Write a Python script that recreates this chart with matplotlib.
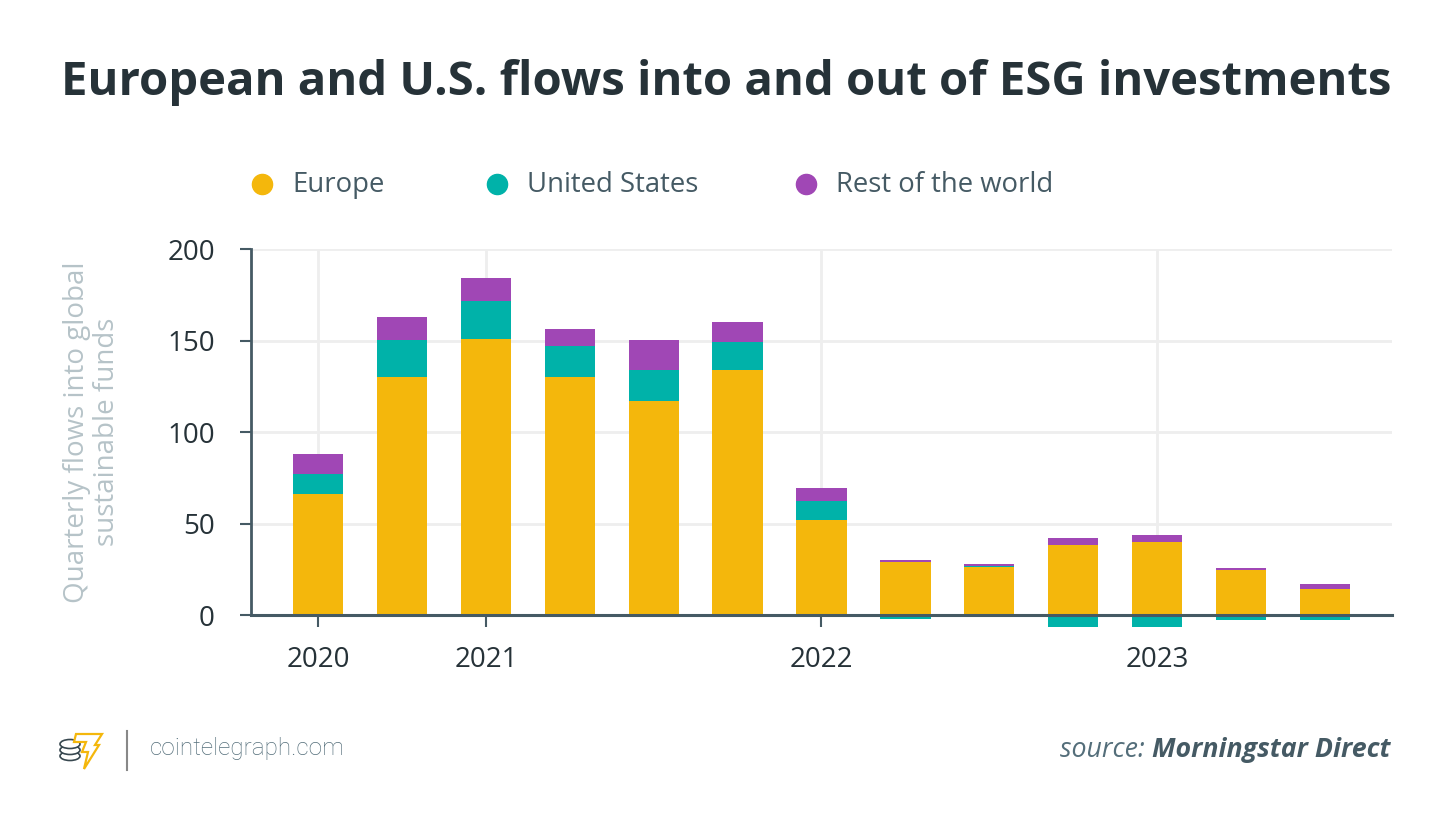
import matplotlib.pyplot as plt
from matplotlib.patches import Ellipse, Polygon
from matplotlib.lines import Line2D
import numpy as np

plt.rcParams['font.family'] = ['Open Sans', 'DejaVu Sans']

# Quarterly flows into global sustainable funds (USD bn)
europe = [66, 130, 151, 130, 117, 134, 52, 29, 26, 38.5, 40, 24.5, 14.5]
united_states = [11, 20.5, 20.5, 17, 17, 15, 10.5, -2, 1, -6.5, -6.5, -2.5, -2.5]
rest_of_world = [11, 12.5, 12.5, 9.5, 16.5, 11, 7, 1, 1, 3.5, 3.5, 1, 2.2]

year_labels = ['2020', '2021', '2022', '2023']
year_bar_index = [0, 2, 6, 10]
y_ticks = [0, 50, 100, 150, 200]

series_names = ['Europe', 'United States', 'Rest of the world']
colors = ['#f4b70c', '#00b2a9', '#a047b5']

dark = '#263238'
axis_col = '#455a64'
grid_col = '#eeeeee'

W, H = 1450, 831
fig = plt.figure(figsize=(W / 100, H / 100), dpi=100)
ax = fig.add_axes([251 / W, 1 - 637 / H, (1392 - 251) / W, (637 - 249) / H])

x = np.arange(len(europe))
eu = np.array(europe)
us = np.array(united_states)
row = np.array(rest_of_world)

ax.bar(x, eu, width=0.6, color=colors[0], zorder=2)
ax.bar(x, us, width=0.6, bottom=np.where(us > 0, eu, 0), color=colors[1], zorder=2)
ax.bar(x, row, width=0.6, bottom=eu + np.clip(us, 0, None), color=colors[2], zorder=2)

ax.set_xlim(-0.8, 12.8)
ax.set_ylim(-12, 200)

# grid
for yv in y_ticks:
    ax.axhline(yv, color=grid_col, lw=2, zorder=0)
for xv in year_bar_index:
    ax.plot([xv, xv], [0, 200], color=grid_col, lw=2, zorder=0)

for s in ['top', 'right']:
    ax.spines[s].set_visible(False)
ax.spines['left'].set_bounds(0, 200)
ax.spines['left'].set_color(axis_col)
ax.spines['left'].set_linewidth(2)
ax.spines['bottom'].set_position(('data', 0))
ax.spines['bottom'].set_color(axis_col)
ax.spines['bottom'].set_linewidth(2.2)
ax.spines['bottom'].set_zorder(3)

ax.set_yticks(y_ticks)
ax.set_yticklabels([str(v) for v in y_ticks])
ax.set_xticks(year_bar_index)
ax.set_xticklabels(year_labels)
ax.tick_params(axis='y', length=8, width=1.5, color=axis_col, pad=18,
               labelsize=20, labelcolor=dark)
ax.tick_params(axis='x', length=8.5, width=1.5, color=axis_col, pad=14,
               labelsize=20, labelcolor=dark)

fig.text(92 / W, 1 - 432 / H, 'Quarterly flows into global\nsustainable funds',
         rotation=90, ha='center', va='center', multialignment='center',
         fontsize=20, color='#b6c3c8', linespacing=1.05)

# title
fig.text(726 / W, 1 - 82 / H, 'European and U.S. flows into and out of ESG investments',
         ha='center', va='center', fontsize=34, fontweight='bold', color=dark)

# legend
for name, c, lx in zip(series_names, colors, [262, 497, 806]):
    fig.add_artist(Line2D([lx / W], [1 - 184 / H], marker='o', markersize=14.5,
                          color=c, linestyle='none'))
    fig.text((lx + 30) / W, 1 - 185 / H, name, ha='left', va='center',
             fontsize=19.8, color=axis_col)

# footer: logo, divider, site
def px(xp, yp):
    return (xp / W, 1 - yp / H)

for cy in [756, 750, 744]:
    fig.add_artist(Ellipse(px(70, cy), 20 / W, 9 / H, fill=True, fc='white',
                           ec='#37474f', lw=1.2))
fig.add_artist(Polygon([px(76, 734), px(102, 734), px(95, 745), px(99, 745),
                        px(84, 769), px(88, 752), px(82, 752), px(86, 742), px(74, 742)],
                       closed=True, fc='white', ec='#f4b70c', lw=1.6))
fig.add_artist(Line2D([127 / W, 127 / W], [1 - 731 / H, 1 - 770 / H],
                      color='#888888', lw=1.5))
fig.text(150 / W, 1 - 749 / H, 'cointelegraph.com', ha='left', va='center',
         fontsize=17.5, color='#546e7a', family=['Roboto', 'DejaVu Sans'],
         fontweight='light')

src_bold = fig.text(1390 / W, 1 - 750 / H, 'Morningstar Direct', ha='right', va='center',
                    fontsize=19.3, style='italic', fontweight='bold', color=axis_col)
fig.canvas.draw()
bb = src_bold.get_window_extent()
fig.text(bb.x0 / W, 1 - 750 / H, 'source: ', ha='right', va='center',
         fontsize=19.3, style='italic', color='#546e7a')

fig.savefig('out.png', dpi=100)
